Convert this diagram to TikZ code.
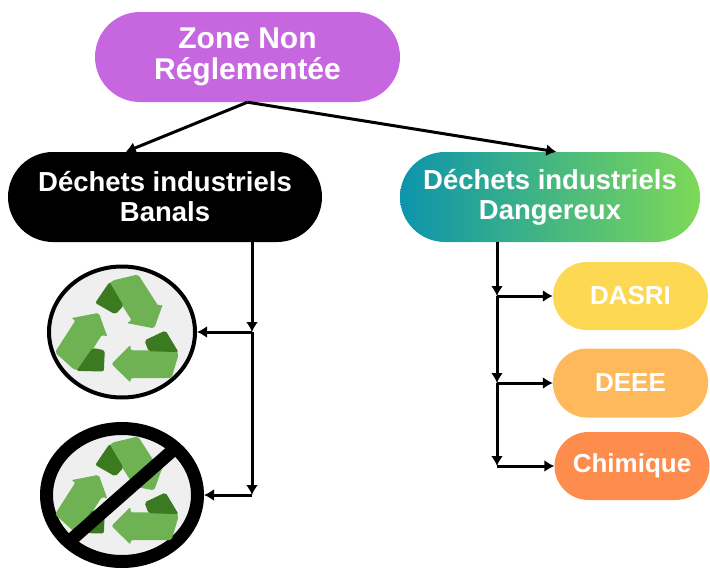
\documentclass[tikz,border=0pt]{standalone}
\usepackage{fontspec}
\setmainfont{Liberation Sans}
\usepackage{xcolor}
\usepackage{tikz}
\usetikzlibrary{arrows.meta,positioning,calc,shapes.geometric}
\newcommand{\zonefont}{\fontsize{30}{31}\selectfont\bfseries}
\newcommand{\catfont}{\fontsize{27.5}{30}\selectfont\bfseries}
\newcommand{\subfont}{\fontsize{26}{28}\selectfont\bfseries}
\definecolor{zonepurple}{RGB}{199,103,224}
\definecolor{dangerteal}{RGB}{12,148,172}
\definecolor{dangergreen}{RGB}{126,217,87}
\definecolor{dasriyellow}{RGB}{253,216,83}
\definecolor{deeeorange}{RGB}{254,185,92}
\definecolor{chimorange}{RGB}{254,140,76}
\definecolor{recyclight}{RGB}{110,178,84}
\definecolor{recycdark}{RGB}{60,122,34}
\definecolor{discgray}{RGB}{239,239,239}
% one arrow of the recycling mark, drawn along the bottom side
\newcommand{\recycarrow}{%
    \fill[recyclight, rounded corners=2pt] (-10,-32) -- (9,-11) -- (9,-17) -- (55,-17)
        -- (57,-22) -- (50,-48) -- (9,-48) -- (9,-53) -- cycle;
    \fill[recycdark, rounded corners=2pt] (27,-18) -- (57,-19) -- (44,5) -- (23,-6) -- cycle;
}
\newcommand{\recycicon}[1]{%
    \begin{scope}[shift={#1}, yscale=-0.9]
        \foreach \ang in {0,120,240} {
            \begin{scope}[rotate=\ang]
                \recycarrow
            \end{scope}
        }
    \end{scope}
}

\begin{document}
\begin{tikzpicture}[x=1pt, y=-1pt,
    pill/.style={text=white, align=center, inner sep=0pt},
    disc/.style={ellipse, draw=black, fill=discgray, inner sep=0pt},
    link/.style={line width=3pt, -{Latex[length=10pt, width=12pt]}}]
    \useasboundingbox (0,0) rectangle (710,570);

    % Main categories
    \node[pill, fill=zonepurple, minimum width=305pt, minimum height=90pt,
          rounded corners=45pt, font=\zonefont] (zone) at (247.5,57) {Zone Non\\Réglementée};
    \node[pill, fill=black, minimum width=314pt, minimum height=90pt,
          rounded corners=45pt, font=\catfont] (banals) at (165,197) {Déchets industriels\\Banals};
    \node[pill, left color=dangerteal, right color=dangergreen, minimum width=300pt,
          minimum height=90pt, rounded corners=45pt, font=\catfont] (dangereux) at (550,197)
          {Déchets industriels\\Dangereux};

    % Dangerous waste types
    \node[pill, fill=dasriyellow, minimum width=155pt, minimum height=68pt,
          rounded corners=34pt, font=\subfont] (dasri) at (630.5,296) {DASRI};
    \node[pill, fill=deeeorange, minimum width=155pt, minimum height=69pt,
          rounded corners=34pt, font=\subfont] (deee) at (630.5,383) {DEEE};
    \node[pill, fill=chimorange, minimum width=155pt, minimum height=68pt,
          rounded corners=34pt, font=\subfont] (chimique) at (632,466) {Chimique};

    % Recyclable / non recyclable
    \node[disc, line width=4pt, minimum width=146pt, minimum height=131pt] (recyc) at (122,332) {};
    \recycicon{(121.5,335)}
    \node[disc, line width=13pt, minimum width=151pt, minimum height=133pt] (norecyc) at (122,495) {};
    \recycicon{(121.5,497)}
    \draw[line width=13pt] ($(norecyc.center)+(-45:75.5 and 66.5)$) -- ($(norecyc.center)+(135:75.5 and 66.5)$);

    % Junctions
    \coordinate (l1) at (252,332);
    \coordinate (l2) at (252,495);
    \coordinate (r1) at (497,296);
    \coordinate (r2) at (497,383);
    \coordinate (r3) at (497,466);

    % Connectors
    \draw[link] (zone.south) -- (banals.131.6);
    \draw[link] (zone.south) -- (dangereux.82.4);
    \draw[link] (banals.south -| l1) -- (l1);
    \draw[link] (l1) -- (l2);
    \draw[link] (l1) -- (recyc.east);
    \draw[link] (l2) -- (norecyc.east);
    \draw[link] (dangereux.south -| r1) -- (r1);
    \draw[link] (r1) -- (r2);
    \draw[link] (r2) -- (r3);
    \draw[link] (r1) -- (dasri.west);
    \draw[link] (r2) -- (deee.west);
    \draw[link] (r3) -- (chimique.west);

\end{tikzpicture}
\end{document}
